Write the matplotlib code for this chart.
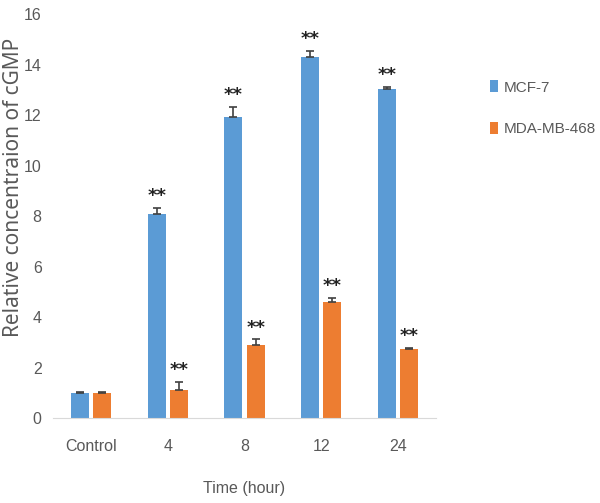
import matplotlib
matplotlib.use("Agg")
import matplotlib.pyplot as plt
import numpy as np

categories = ["Control", "4", "8", "12", "24"]
mcf7 = [1.0, 8.08, 11.92, 14.3, 13.05]
mcf7_err = [0.03, 0.25, 0.4, 0.25, 0.05]
mda = [1.0, 1.11, 2.89, 4.6, 2.73]
mda_err = [0.03, 0.3, 0.22, 0.15, 0.05]
mcf7_sig = ["", "**", "**", "**", "**"]
mda_sig = ["", "**", "**", "**", "**"]

blue = "#5B9BD5"
orange = "#ED7D31"
gray = "#595959"
tickfont = ["Liberation Sans", "DejaVu Sans"]

fig = plt.figure(figsize=(6.0, 5.03), dpi=100)
ax = fig.add_axes([0.088, 0.169, 0.639, 0.803])

x = np.arange(len(categories))
w = 0.235
off = 0.145
ekw = dict(ecolor="#404040", elinewidth=1.2, capthick=1.2)
zeros = [0] * len(categories)
ax.bar(x - off, mcf7, w, color=blue, yerr=[zeros, mcf7_err], capsize=3,
       error_kw=ekw, label="MCF-7")
ax.bar(x + off, mda, w, color=orange, yerr=[zeros, mda_err], capsize=3,
       error_kw=ekw, label="MDA-MB-468")

def star(xpos, top, s):
    if s:
        ax.annotate(s, (xpos, top), xytext=(0, 5), textcoords="offset points",
                    ha="center", va="baseline", fontsize=13, fontweight="bold",
                    color="#222222", family=["DejaVu Sans"])

for i in range(len(categories)):
    star(x[i] - off, mcf7[i] + mcf7_err[i], mcf7_sig[i])
    star(x[i] + off, mda[i] + mda_err[i], mda_sig[i])

ax.set_xlim(-0.5, len(categories) - 0.5)
ax.set_ylim(0, 16)
ax.set_yticks(np.arange(0, 17, 2))
ax.set_xticks(x)
ax.set_xticklabels(categories)
for s in ["top", "right", "left"]:
    ax.spines[s].set_visible(False)
ax.spines["bottom"].set_color("#D9D9D9")
ax.tick_params(axis="both", length=0, colors=gray, labelsize=11.5)
ax.tick_params(axis="x", pad=15)
ax.tick_params(axis="y", pad=8)
for lab in ax.get_xticklabels() + ax.get_yticklabels():
    lab.set_family(tickfont)

ax.set_xlabel("Time (hour)", color=gray, fontsize=11.5, family=tickfont)
ax.xaxis.set_label_coords(0.5, -0.155)
ax.set_ylabel("Relative concentraion of cGMP", color=gray, fontsize=15,
              family=["Noto Sans", "DejaVu Sans"])
ax.yaxis.set_label_coords(-0.076, 0.57)

leg = fig.legend(loc="upper left", bbox_to_anchor=(0.816, 0.84), frameon=False,
                 handlelength=0.55, handleheight=0.8, labelspacing=1.8,
                 handletextpad=0.35, borderpad=0, borderaxespad=0,
                 prop=dict(family=tickfont, size=11))
for t in leg.get_texts():
    t.set_color(gray)

fig.savefig("out.png", dpi=100)
